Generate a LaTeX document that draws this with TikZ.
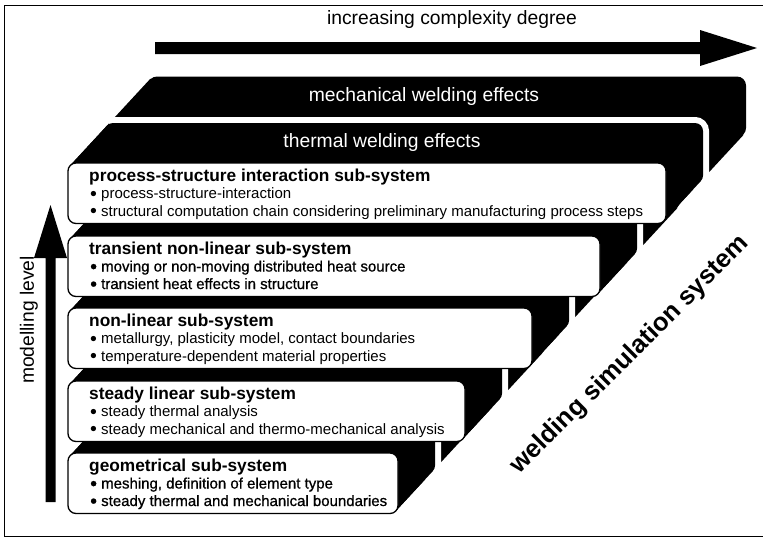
\documentclass[tikz,border=0pt]{standalone}
\usepackage{fontspec}
\setmainfont{Liberation Sans}
\newfontfamily\densefont[FakeBold=0.8]{Liberation Sans}

% list bullet, a little larger than the font's own
\newcommand{\itembul}{\raisebox{-0.2ex}{\scalebox{1.3}{•}}\ }

% One stacked layer: rear slab, white-rimmed near slab, white front face.
% #1 = top edge of the front face, #2 = its right edge (y grows downwards)
\newcommand{\stacklayer}[2]{%
  \pgfmathsetmacro{\Ty}{#1}%
  \pgfmathsetmacro{\By}{#1+60.5}%
  \pgfmathsetmacro{\Rx}{#2}%
  % rear slab
  \fill[slab,rounded corners=9pt] (148,\Ty-86.5) rectangle (\Rx+80,\By-86.5);
  \fill[slab] (70.3,\Ty+2.3) -- ++(80,-86.5) -- (\Rx+77.7,\By-88.8) -- (\Rx-2.3,\By-2.3) -- cycle;
  % white rim round the near slab
  \draw[rim] (115,\Ty-40) -- (\Rx+37,\Ty-40) -- (\Rx+37,\By-40) -- (\Rx+17,\By-40);
  % near slab
  \fill[slab,rounded corners=8pt] (105,\Ty-40) rectangle (\Rx+37,\By-40);
  \fill[slab] (70.3,\Ty+2.3) -- ++(37,-40) -- (\Rx+34.7,\By-42.3) -- (\Rx-2.3,\By-2.3) -- cycle;
  % front face
  \path[boxface] (68,\Ty) rectangle (\Rx,\By);
}

\begin{document}
\begin{tikzpicture}[x=1pt,y=-1pt,
  boxface/.style={fill=white,draw=black,line width=1.3pt,rounded corners=8pt},
  slab/.style={fill=black},
  rim/.style={draw=white,line width=12pt,line cap=round,rounded corners=8pt},
  titletext/.style={anchor=base west,inner sep=0pt,font=\fontsize{17.3}{19}\selectfont\bfseries},
  itemtext/.style={anchor=base west,inner sep=0pt,font=\fontsize{15}{17}\selectfont},
  itemdense/.style={anchor=base west,inner sep=0pt,font=\densefont\fontsize{15}{17}\selectfont},
  bandtext/.style={text=white,inner sep=0pt,font=\fontsize{19.3}{21}\selectfont},
  plaintext/.style={inner sep=0pt,font=\fontsize{19.3}{21}\selectfont},
  blockarrow/.style={fill=black}
]
\useasboundingbox (0,0) rectangle (763,539);

% frame
\draw[line width=1pt] (763,5) -- (4.5,5) -- (4.5,536) -- (763,536);

% complexity arrow
\coordinate (cxs) at (155,48);
\coordinate (cxe) at (757,48);
\fill[blockarrow] (155,42) -- (700,42) -- (700,30) -- (cxe) -- (700,66) -- (700,54) -- (155,54) -- cycle;
\node[plaintext] (cxlabel) at (452,20) {increasing complexity degree};

% modelling level arrow
\coordinate (mls) at (50.5,502);
\coordinate (mle) at (50.5,205);
\fill[blockarrow] (45.5,502) -- (45.5,258) -- (34,258) -- (mle) -- (67,258) -- (55.5,258) -- (55.5,502) -- cycle;
\node[plaintext,rotate=90] (mllabel) at (29,320) {modelling level};

% the stack, bottom layer first
\stacklayer{453}{398}
\stacklayer{381}{465}
\stacklayer{308}{532}
\stacklayer{236}{600}
\stacklayer{163}{666}

% slab labels
\node[bandtext] (mech) at (424,97) {mechanical welding effects};
\node[bandtext] (therm) at (382,143) {thermal welding effects};

% process-structure interaction
\node[titletext] (ps) at (89,181.5) {process-structure interaction sub-system};
\node[itemtext] (psa) at (90,198.5) {\itembul process-structure-interaction};
\node[itemtext] (psb) at (90,216) {\itembul structural computation chain considering preliminary manufacturing process steps};

% transient non-linear
\node[titletext] (tn) at (89,254.5) {transient non-linear sub-system};
\node[itemdense] (tna) at (90,271.5) {\itembul moving or non-moving distributed heat source};
\node[itemdense] (tnb) at (90,289) {\itembul transient heat effects in structure};

% non-linear
\node[titletext] (nl) at (89,326.5) {non-linear sub-system};
\node[itemtext] (nla) at (90,343.5) {\itembul metallurgy, plasticity model, contact boundaries};
\node[itemtext] (nlb) at (90,361) {\itembul temperature-dependent material properties};

% steady linear
\node[titletext] (sl) at (89,399.5) {steady linear sub-system};
\node[itemtext] (sla) at (90,416.5) {\itembul steady thermal analysis};
\node[itemtext] (slb) at (90,434) {\itembul steady mechanical and thermo-mechanical analysis};

% geometrical
\node[titletext] (gs) at (89,471.5) {geometrical sub-system};
\node[itemdense] (gsa) at (90,488.5) {\itembul meshing, definition of element type};
\node[itemdense] (gsb) at (90,506) {\itembul steady thermal and mechanical boundaries};

% system label along the diagonal
\node[inner sep=0pt,rotate=45,font=\fontsize{25.5}{27}\selectfont\bfseries] (wss) at (630,355) {welding simulation system};
\end{tikzpicture}
\end{document}
